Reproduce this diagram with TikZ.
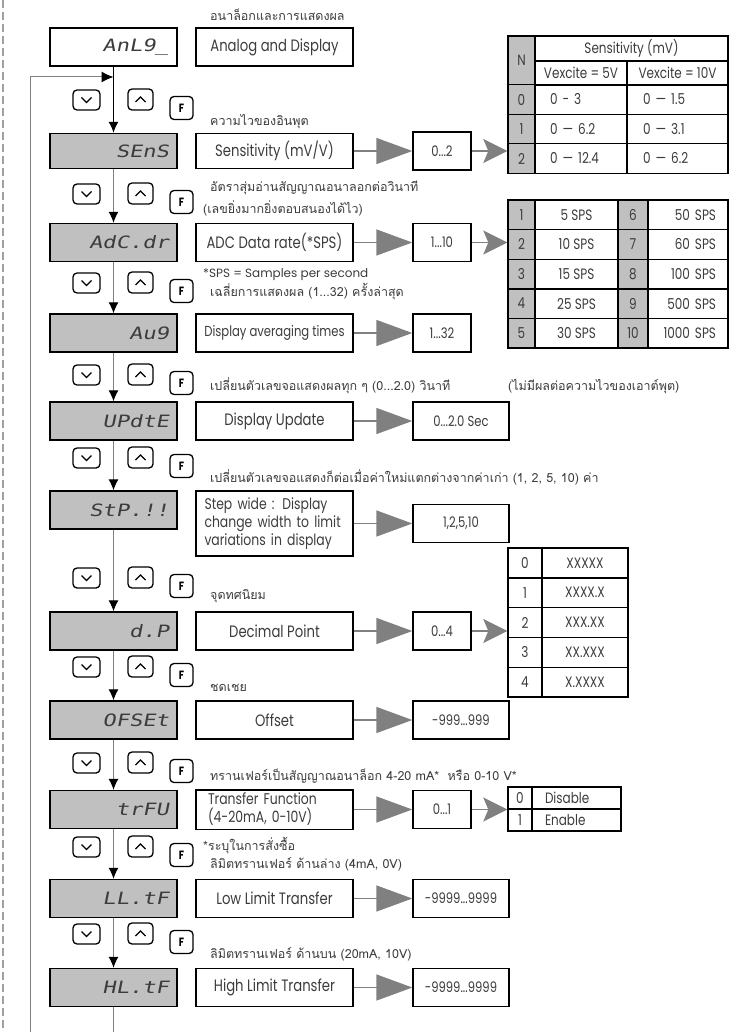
\documentclass[tikz,border=0pt]{standalone}
\usepackage{fontspec}
\setmainfont{Poppins}[FakeStretch=0.8]
\newfontfamily\widefont{Poppins}
\newfontfamily\thaifont[Script=Thai]{Loma}
\newfontfamily\segfont{DejaVu Sans Mono}[FakeStretch=1.3, FakeSlant=0.2]
\usetikzlibrary{positioning, arrows.meta, calc}

\definecolor{dispgray}{RGB}{192,192,192}
\definecolor{linegray}{RGB}{128,128,128}
\definecolor{txtgray}{RGB}{60,60,60}
\definecolor{dashgray}{RGB}{160,160,160}

\begin{document}
\begin{tikzpicture}[
  x=1pt, y=-1pt,
  dispbox/.style={
    rectangle, draw=black, fill=dispgray, line width=1.4pt,
    minimum width=127pt, minimum height=38pt, text width=111pt,
    inner xsep=8pt, align=right, text=txtgray,
    font=\segfont\fontsize{17}{17}\selectfont
  },
  descbox/.style={
    rectangle, draw=black, line width=1.4pt,
    minimum width=157pt, minimum height=38pt, align=center,
    text=txtgray, font=\fontsize{16.5}{18}\selectfont
  },
  valbox/.style={
    rectangle, draw=black, line width=1.4pt,
    minimum width=58pt, minimum height=38pt, align=center,
    text=txtgray, font=\fontsize{14.5}{16}\selectfont
  },
  cell/.style={
    rectangle, draw=black, line width=1.4pt, inner sep=0pt,
    text=txtgray, font=\fontsize{15}{16}\selectfont
  },
  nocell/.style={cell, fill=dispgray},
  thailabel/.style={
    anchor=west, inner sep=0pt, text=txtgray,
    font=\thaifont\fontsize{12.5}{14}\selectfont
  },
  btn/.style={rectangle, draw=black, line width=1.3pt, rounded corners=4pt},
  btndown/.style={btn, minimum width=27pt, minimum height=20pt,
    path picture={\draw[line width=1.3pt, sharp corners]
      ([shift={(-5pt,2.5pt)}]path picture bounding box.center)
      -- ++(5pt,-5pt) -- ++(5pt,5pt);}},
  btnup/.style={btn, minimum width=25pt, minimum height=21pt,
    path picture={\draw[line width=1.3pt, sharp corners]
      ([shift={(-5pt,-2.5pt)}]path picture bounding box.center)
      -- ++(5pt,5pt) -- ++(5pt,-5pt);}},
  btnf/.style={btn, minimum width=23pt, minimum height=23pt, inner sep=0pt,
    font=\bfseries\fontsize{12}{12}\selectfont},
  flow/.style={-{Latex[length=11pt, width=10pt, color=black]}, line width=1pt, linegray},
  rowarrow/.style={-{Triangle[length=36pt, width=26pt]}, line width=1.5pt, linegray},
  tabarrow/.style={-{Stealth[length=24pt, width=24pt, inset=5pt]}, line width=1.5pt, linegray},
]
\useasboundingbox (0,0) rectangle (728,1032);

%% ── Page edge ────────────────────────────────────────────────────────────────
\draw[dashgray, line width=2.5pt, dash pattern=on 8pt off 4pt] (3,0) -- (3,1032);

%% ── Display column ───────────────────────────────────────────────────────────
\node[dispbox, fill=white] (anl)  at (113.5,47)    {AnL9\_};
\node[dispbox, minimum height=35pt] (sens) at (113.5,151) {SEnS};
\node[dispbox] (adc)  at (113.5,242.5) {AdC.dr};
\node[dispbox] (avg)  at (113.5,333)   {Au9};
\node[dispbox] (updt) at (113.5,421)   {UPdtE};
\node[dispbox] (stp)  at (113.5,510)   {StP.!!};
\node[dispbox] (dp)   at (113.5,631)   {d.P};
\node[dispbox] (ofs)  at (113.5,720)   {OFSEt};
\node[dispbox] (trfu) at (113.5,809.5) {trFU};
\node[dispbox] (lltf) at (113.5,898.5) {LL.tF};
\node[dispbox] (hltf) at (113.5,987.5) {HL.tF};

%% ── Flow down the column ─────────────────────────────────────────────────────
\draw[flow, black, line width=1.2pt] (anl.south) -- (sens.north);
\draw[flow] (sens.south) -- (adc.north);
\draw[flow] (adc.south)  -- (avg.north);
\draw[flow] (avg.south)  -- (updt.north);
\draw[flow] (updt.south) -- (stp.north);
\draw[flow] (stp.south)  -- (dp.north);
\draw[flow] (dp.south)   -- (ofs.north);
\draw[flow] (ofs.south)  -- (trfu.north);
\draw[flow] (trfu.south) -- (lltf.north);
\draw[flow] (lltf.south) -- (hltf.north);

% return loop
\coordinate (mainbot) at (113.5,1032);
\coordinate (loopbot) at (30,1032);
\coordinate (loopin)  at (113.5,77);
\draw[line width=1pt, linegray] (hltf.south) -- (mainbot);
\draw[line width=1pt, linegray, -{Latex[length=12pt, width=11pt, color=black]}]
  (loopbot) |- (loopin);

%% ── Keys ─────────────────────────────────────────────────────────────────────
\foreach \i/\y in {1/100, 2/194, 3/283, 4/375, 5/458, 6/578, 7/667, 8/763, 9/847, 10/934} {
  \node[btndown] (dn\i) at (86.5,\y) {};
  \node[btnup]   (up\i) at (140.5,\y-0.5) {};
  \node[btnf]    (fk\i) at (181.5,\y+8) {F};
}

%% ── Descriptions ─────────────────────────────────────────────────────────────
\node[descbox] (danl)  at (274.5,47)    {Analog and Display};
\node[descbox, minimum height=35pt] (dsens) at (274.5,151) {Sensitivity (mV/V)};
\node[descbox] (dadc)  at (274.5,242.5) {ADC Data rate(*SPS)};
\node[descbox, font=\fontsize{14.5}{16}\selectfont] (davg) at (274.5,333) {Display averaging times};
\node[descbox] (dupdt) at (274.5,421)   {Display Update};
\node[descbox, minimum height=65pt, text width=140pt, inner xsep=8.5pt, align=left,
  font=\fontsize{15.5}{18}\selectfont] (dstp) at (274.5,523.5)
  {Step wide : Display\\change width to limit\\variations in display};
\node[descbox] (ddp)   at (274.5,631)   {Decimal Point};
\node[descbox] (dofs)  at (274.5,720)   {Offset};
\node[descbox, text width=133pt, inner xsep=12pt, align=left,
  font=\fontsize{15.5}{18}\selectfont] (dtrfu) at (274.5,809.5)
  {Transfer Function\\(4-20mA, 0-10V)};
\node[descbox] (dlltf) at (274.5,898.5) {Low Limit Transfer};
\node[descbox] (dhltf) at (274.5,987.5) {High Limit Transfer};

%% ── Thai notes ───────────────────────────────────────────────────────────────
\node[thailabel] (n1)  at (210,15)  {อนาล็อกและการแสดงผล};
\node[thailabel] (n2)  at (210,122) {ความไวของอินพุต};
\node[thailabel] (n3)  at (210,188) {อัตราสุ่มอ่านสัญญาณอนาลอกต่อวินาที};
\node[thailabel] (n4)  at (203,208) {(เลขยิ่งมากยิ่งตอบสนองได้ไว)};
\node[thailabel, font=\widefont\fontsize{12}{14}\selectfont] (n5) at (203,275) {*SPS = Samples per second};
\node[thailabel] (n6)  at (210,292) {เฉลี่ยการแสดงผล (1...32) ครั้งล่าสุด};
\node[thailabel] (n7)  at (210,386) {เปลี่ยนตัวเลขจอแสดงผลทุก ๆ (0...2.0) วินาที};
\node[thailabel] (n8)  at (508,387) {(ไม่มีผลต่อความไวของเอาต์พุต)};
\node[thailabel] (n9)  at (210,477) {เปลี่ยนตัวเลขจอแสดงก็ต่อเมื่อค่าใหม่แตกต่างจากค่าเก่า (1, 2, 5, 10) ค่า};
\node[thailabel] (n10) at (210,596) {จุดทศนิยม};
\node[thailabel] (n11) at (210,688) {ชดเชย};
\node[thailabel] (n12) at (210,776) {ทรานเฟอร์เป็นสัญญาณอนาล็อก 4-20 mA*\ \ หรือ 0-10 V*};
\node[thailabel] (n13) at (203,845) {*ระบุในการสั่งซื้อ};
\node[thailabel] (n14) at (210,864) {ลิมิตทรานเฟอร์ ด้านล่าง (4mA, 0V)};
\node[thailabel] (n15) at (210,954) {ลิมิตทรานเฟอร์ ด้านบน (20mA, 10V)};

%% ── Values ───────────────────────────────────────────────────────────────────
\node[valbox] (vsens) at (442,151)   {0...2};
\node[valbox] (vadc)  at (442,242.5) {1...10};
\node[valbox] (vavg)  at (442,333)   {1...32};
\node[valbox, minimum width=96pt] (vupdt) at (461,421)   {0...2.0 Sec};
\node[valbox, minimum width=96pt] (vstp)  at (461,523.5) {1,2,5,10};
\node[valbox] (vdp)   at (442,631)   {0...4};
\node[valbox, minimum width=96pt] (vofs)  at (461,720)   {-999...999};
\node[valbox] (vtrfu) at (442,809.5) {0...1};
\node[valbox, minimum width=96pt] (vlltf) at (461,898.5) {-9999...9999};
\node[valbox, minimum width=96pt] (vhltf) at (461,987.5) {-9999...9999};

\draw[rowarrow] (dsens.east) -- (vsens.west);
\draw[rowarrow] (dadc.east)  -- (vadc.west);
\draw[rowarrow] (davg.east)  -- (vavg.west);
\draw[rowarrow] (dupdt.east) -- (vupdt.west);
\draw[rowarrow] (dstp.east)  -- (vstp.west);
\draw[rowarrow] (ddp.east)   -- (vdp.west);
\draw[rowarrow] (dofs.east)  -- (vofs.west);
\draw[rowarrow] (dtrfu.east) -- (vtrfu.west);
\draw[rowarrow] (dlltf.east) -- (vlltf.west);
\draw[rowarrow] (dhltf.east) -- (vhltf.west);

%% ── Sensitivity table ────────────────────────────────────────────────────────
\node[nocell, minimum width=27pt, minimum height=49pt] (sN) at (521.5,60.5) {N};
\node[cell, minimum width=193pt, minimum height=25pt] (shead) at (631.5,48.5) {Sensitivity (mV)};
\node[cell, minimum width=92pt, minimum height=24pt] (sv5) at (581,73) {Vexcite = 5V};
\node[cell, minimum width=101pt, minimum height=24pt] (sv10) at (677.5,73) {Vexcite = 10V};
\foreach \n/\a/\b [count=\k from 0] in {0/0 - 3/0 — 1.5, 1/0 — 6.2/0 — 3.1, 2/0 — 12.4/0 — 6.2} {
  \node[nocell, minimum width=27pt, minimum height=29.5pt] (sn\n) at (521.5,{99.5+29.5*\k}) {\n};
  \node[cell, minimum height=29.5pt, text width=62pt, inner xsep=15pt, align=left]
    (sa\n) at (581,{99.5+29.5*\k}) {\a};
  \node[cell, minimum height=29.5pt, text width=69pt, inner xsep=16pt, align=left]
    (sb\n) at (677.5,{99.5+29.5*\k}) {\b};
}
\draw[tabarrow] (vsens.east) -- (vsens.east -| sN.west);

%% ── Data rate table ──────────────────────────────────────────────────────────
\foreach \n/\a/\m/\b [count=\k from 0] in
  {1/5 SPS/6/50 SPS, 2/10 SPS/7/60 SPS, 3/15 SPS/8/100 SPS, 4/25 SPS/9/500 SPS, 5/30 SPS/10/1000 SPS} {
  \node[nocell, minimum width=27pt, minimum height=29.6pt] (rn\n) at (521.5,{214.8+29.6*\k}) {\n};
  \node[cell, minimum width=83pt, minimum height=29.6pt] (ra\n) at (576.5,{214.8+29.6*\k}) {\a};
  \node[nocell, minimum width=30pt, minimum height=29.6pt] (rm\n) at (633,{214.8+29.6*\k}) {\m};
  \node[cell, minimum height=29.6pt, text width=56pt, inner xsep=12pt, align=right]
    (rb\n) at (688,{214.8+29.6*\k}) {\b};
}
\draw[tabarrow] (vadc.east) -- (vadc.east -| rn1.west);

%% ── Decimal point table ──────────────────────────────────────────────────────
\foreach \n/\a in {0/XXXXX, 1/XXXX.X, 2/XXX.XX, 3/XX.XXX, 4/X.XXXX} {
  \node[cell, minimum width=34pt, minimum height=29.8pt] (pn\n) at (525,{563+29.8*\n}) {\n};
  \node[cell, minimum width=86pt, minimum height=29.8pt] (pa\n) at (585,{563+29.8*\n}) {\a};
}
\draw[tabarrow] (vdp.east) -- (vdp.east -| pn0.west);

%% ── Transfer table ───────────────────────────────────────────────────────────
\foreach \n/\a in {0/Disable, 1/Enable} {
  \node[cell, minimum width=24pt, minimum height=22pt] (tn\n) at (520,{798+22*\n}) {\n};
  \node[cell, minimum height=22pt, text width=63pt, inner xsep=13pt, align=left]
    (ta\n) at (576.5,{798+22*\n}) {\a};
}
\draw[tabarrow] (vtrfu.east) -- (vtrfu.east -| tn0.west);

\end{tikzpicture}
\end{document}
